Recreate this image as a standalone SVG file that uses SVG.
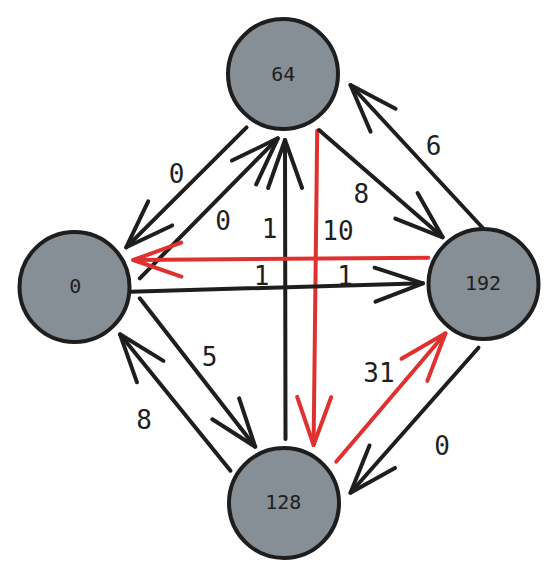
<svg xmlns="http://www.w3.org/2000/svg" width="558" height="577" viewBox="0 0 558 577">
  <defs>
    <marker id="arrK" markerUnits="userSpaceOnUse" markerWidth="60" markerHeight="50" viewBox="-55 -25 60 50" refX="0" refY="0" orient="auto">
      <path d="M -48,-17 L 0,0 L -48,17" fill="none" stroke="#1e1e1e" stroke-width="4" stroke-linecap="round" stroke-linejoin="round"/>
    </marker>
    <marker id="arrR" markerUnits="userSpaceOnUse" markerWidth="60" markerHeight="50" viewBox="-55 -25 60 50" refX="0" refY="0" orient="auto">
      <path d="M -48,-17 L 0,0 L -48,17" fill="none" stroke="#e03131" stroke-width="4" stroke-linecap="round" stroke-linejoin="round"/>
    </marker>
  </defs>
  <style>
    .node circle { fill: #868e96; stroke: #1e1e1e; stroke-width: 4; }
    .node text { font-family: "DejaVu Sans Mono", "Liberation Mono", monospace; font-size: 20px; fill: #1e1e1e; text-anchor: middle; }
    .e { fill: none; stroke: #1e1e1e; stroke-width: 4; stroke-linecap: round; marker-end: url(#arrK); }
    .r { fill: none; stroke: #e03131; stroke-width: 4; stroke-linecap: round; marker-end: url(#arrR); }
    .lbl { font-family: "DejaVu Sans Mono", "Liberation Mono", monospace; font-size: 26px; fill: #1e1e1e; text-anchor: middle; }
  </style>
  <rect width="558" height="577" fill="#ffffff"/>
  <g id="connectors">
    <line class="e" x1="246.6" y1="127.3" x2="126.2" y2="247.3"/>
    <line class="e" x1="139.8" y1="278.3" x2="277.8" y2="138.3"/>
    <line class="e" x1="285.5" y1="439" x2="285" y2="140"/>
    <line class="r" x1="317.2" y1="130.7" x2="313.6" y2="445"/>
    <line class="e" x1="319" y1="130" x2="442.7" y2="237.3"/>
    <line class="e" x1="484.6" y1="230" x2="350.5" y2="85"/>
    <line class="r" x1="428.3" y1="257.7" x2="133.3" y2="260"/>
    <line class="e" x1="130.8" y1="291.7" x2="423" y2="283.3"/>
    <line class="e" x1="139.8" y1="298.3" x2="255.2" y2="446.7"/>
    <line class="e" x1="230.5" y1="470.7" x2="120" y2="334.3"/>
    <line class="r" x1="336.2" y1="461.7" x2="445.5" y2="333.3"/>
    <line class="e" x1="478.5" y1="347.7" x2="350.5" y2="492.7"/>
    <text class="lbl" x="176.7" y="182.8">0</text>
    <text class="lbl" x="223" y="230.2">0</text>
    <text class="lbl" x="269.5" y="237.5">1</text>
    <text class="lbl" x="338" y="239.5">10</text>
    <text class="lbl" x="361.3" y="202.8">8</text>
    <text class="lbl" x="433.7" y="154.5">6</text>
    <text class="lbl" x="261.6" y="284.5">1</text>
    <text class="lbl" x="345" y="284.5">1</text>
    <text class="lbl" x="209.7" y="366.2">5</text>
    <text class="lbl" x="144" y="428.8">8</text>
    <text class="lbl" x="378.9" y="382.2">31</text>
    <text class="lbl" x="442" y="454.5">0</text>
  </g>
  <g id="node-64" class="node">
    <circle cx="283" cy="74" r="55"/>
    <text x="283.3" y="81">64</text>
  </g>
  <g id="node-0" class="node">
    <circle cx="74.5" cy="287" r="55"/>
    <text x="75.3" y="293.3">0</text>
  </g>
  <g id="node-192" class="node">
    <circle cx="483.5" cy="284" r="55"/>
    <text x="483" y="290">192</text>
  </g>
  <g id="node-128" class="node">
    <circle cx="284" cy="503" r="55"/>
    <text x="283.3" y="509.3">128</text>
  </g>
</svg>
